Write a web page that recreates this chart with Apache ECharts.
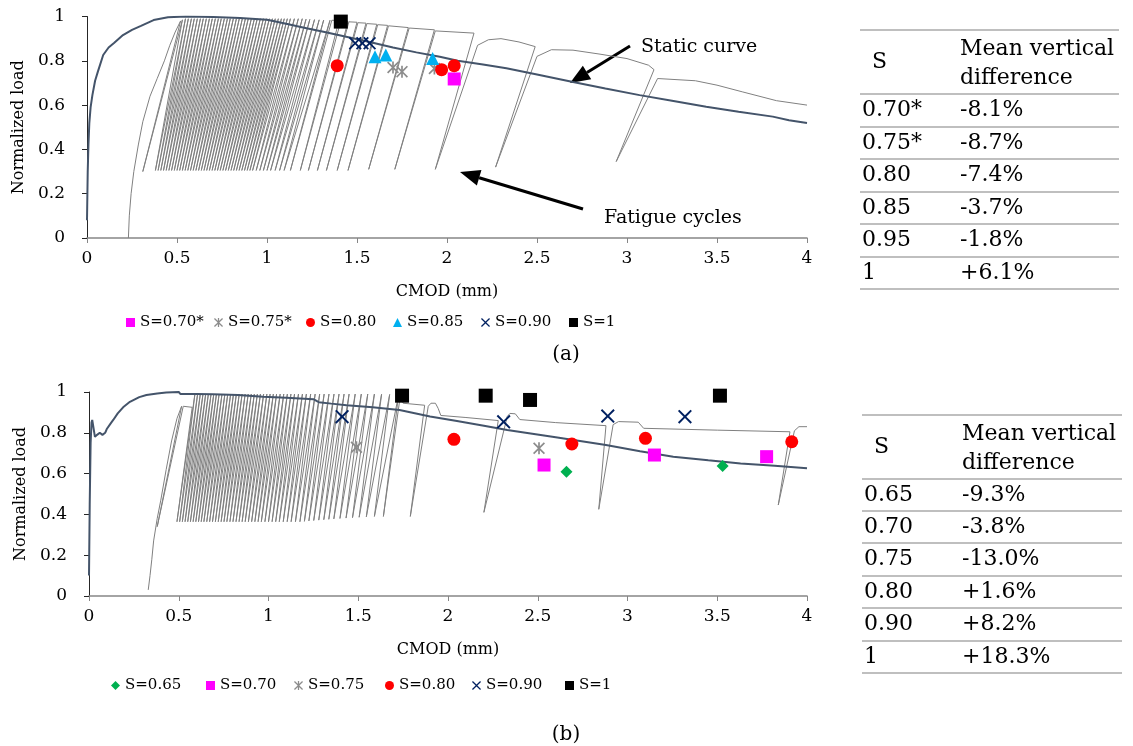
<!DOCTYPE html>
<html>
<head>
<meta charset="utf-8">
<script src="https://cdn.jsdelivr.net/npm/echarts/dist/echarts.min.js"></script>
<style>
html, body { margin: 0; padding: 0; background: #fff; }
#chart { width: 1133px; height: 746px; }
</style>
</head>
<body>
<div id="chart"></div>
<script>
// ---- (a) static curve
var staticAX = [0, 0.004, 0.008, 0.013, 0.02, 0.03, 0.045, 0.06, 0.09, 0.12, 0.15, 0.2, 0.25, 0.3, 0.37, 0.45, 0.55, 0.7, 0.85, 1.0,
                1.1, 1.2, 1.32, 1.44, 1.57, 1.7, 1.83, 1.96, 2.06, 2.2, 2.33, 2.5, 2.7, 2.88, 3.07, 3.25, 3.44, 3.62, 3.81, 3.9, 4.0];
var staticAY = [0.08, 0.3, 0.42, 0.52, 0.59, 0.645, 0.71, 0.75, 0.826, 0.86, 0.88, 0.916, 0.94, 0.958, 0.984, 0.997, 1.0, 0.998, 0.993, 0.985,
                0.968, 0.95, 0.93, 0.909, 0.885, 0.86, 0.838, 0.818, 0.8, 0.783, 0.766, 0.738, 0.704, 0.675, 0.645, 0.62, 0.593, 0.57, 0.548, 0.532, 0.519];

// ---- (a) fatigue test: first loading, dense cycles, then the sparse teeth
var initAX = [0.23, 0.235, 0.245, 0.26, 0.285, 0.31, 0.35, 0.39, 0.43, 0.46, 0.49, 0.52];
var initAY = [0, 0.1, 0.2, 0.3, 0.42, 0.525, 0.64, 0.72, 0.8, 0.87, 0.93, 0.98];
var cycBotAX = [0.31, 0.38, 0.395, 0.41, 0.425, 0.44, 0.455, 0.47, 0.485, 0.5,
                0.515, 0.53, 0.545, 0.56, 0.575, 0.59, 0.605, 0.62, 0.635, 0.65,
                0.665, 0.68, 0.695, 0.71, 0.725, 0.74, 0.755, 0.77, 0.785, 0.8,
                0.815, 0.83, 0.845, 0.86, 0.875, 0.89, 0.905, 0.92, 0.94, 0.96,
                0.98, 1.0, 1.02, 1.045, 1.07, 1.095, 1.13];
var cycBotAY = [0.3, 0.305, 0.305, 0.305, 0.305, 0.305, 0.305, 0.305, 0.305, 0.305,
                0.305, 0.305, 0.305, 0.305, 0.305, 0.305, 0.305, 0.305, 0.305, 0.305,
                0.305, 0.305, 0.305, 0.305, 0.305, 0.305, 0.305, 0.305, 0.305, 0.305,
                0.305, 0.305, 0.305, 0.305, 0.305, 0.305, 0.305, 0.305, 0.305, 0.305,
                0.305, 0.305, 0.305, 0.305, 0.305, 0.305, 0.305];
var cycTopAX = [0.53, 0.547, 0.563, 0.58, 0.596, 0.613, 0.63, 0.646, 0.663, 0.68,
                0.696, 0.713, 0.73, 0.746, 0.763, 0.78, 0.796, 0.813, 0.83, 0.846,
                0.863, 0.88, 0.896, 0.913, 0.93, 0.946, 0.963, 0.98, 0.996, 1.013,
                1.03, 1.046, 1.063, 1.08, 1.096, 1.113, 1.13, 1.152, 1.174, 1.196,
                1.217, 1.238, 1.264, 1.29, 1.315, 1.35, 1.36];
var cycTopAY = [0.985, 0.99, 0.99, 0.99, 0.99, 0.99, 0.99, 0.99, 0.99, 0.99,
                0.99, 0.99, 0.99, 0.99, 0.99, 0.99, 0.99, 0.99, 0.99, 0.99,
                0.99, 0.99, 0.99, 0.99, 0.99, 0.99, 0.99, 0.99, 0.99, 0.99,
                0.99, 0.99, 0.99, 0.99, 0.99, 0.99, 0.99, 0.99, 0.99, 0.99,
                0.988, 0.987, 0.986, 0.985, 0.984, 0.983, 0.983];
var tailAX = [1.4, 1.185, 1.41, 1.45, 1.23, 1.455, 1.5, 1.28, 1.505, 1.55, 1.33, 1.555, 1.61, 1.39, 1.615, 1.67, 1.45, 1.675,
              1.785, 1.565, 1.79, 1.93, 1.71, 1.935, 2.15, 1.935, 2.17, 2.23, 2.3, 2.4, 2.49, 2.27, 2.5, 2.58, 2.7, 2.85,
              3.0, 3.12, 3.15, 2.94, 3.17, 3.38, 3.5, 3.64, 3.83, 4.0];
var tailAY = [0.982, 0.305, 0.98, 0.978, 0.305, 0.976, 0.974, 0.305, 0.972, 0.97, 0.305, 0.968, 0.965, 0.305, 0.963, 0.96, 0.305, 0.958,
              0.95, 0.31, 0.948, 0.94, 0.31, 0.935, 0.925, 0.31, 0.87, 0.895, 0.9, 0.885, 0.864, 0.32, 0.82, 0.85, 0.848, 0.83,
              0.81, 0.78, 0.76, 0.345, 0.72, 0.71, 0.69, 0.66, 0.62, 0.6];

// ---- (b) static curve
var staticBX = [0, 0.004, 0.009, 0.014, 0.018, 0.024, 0.033, 0.045, 0.06, 0.075, 0.09, 0.1, 0.12, 0.135, 0.16, 0.19, 0.228, 0.28, 0.32, 0.38,
                0.43, 0.5, 0.51, 0.6, 0.69, 0.83, 0.97, 1.1, 1.25, 1.28, 1.35, 1.435, 1.58, 1.73, 1.9, 2.05, 2.2, 2.33, 2.6, 2.88,
                3.07, 3.255, 3.45, 3.63, 3.82, 4.0];
var staticBY = [0.1, 0.45, 0.75, 0.85, 0.863, 0.83, 0.78, 0.79, 0.8, 0.79, 0.8, 0.82, 0.845, 0.863, 0.895, 0.925, 0.952, 0.975, 0.985, 0.993,
                0.997, 1.0, 0.99, 0.99, 0.989, 0.985, 0.977, 0.972, 0.965, 0.95, 0.943, 0.935, 0.925, 0.912, 0.88, 0.858, 0.835, 0.814, 0.778, 0.74,
                0.71, 0.683, 0.665, 0.65, 0.638, 0.626];

// ---- (b) fatigue test
var initBX = [0.33, 0.34, 0.35, 0.36, 0.38, 0.4, 0.43, 0.46, 0.49, 0.516, 0.38, 0.525, 0.575];
var initBY = [0.03, 0.1, 0.18, 0.27, 0.38, 0.47, 0.62, 0.76, 0.87, 0.93, 0.34, 0.93, 0.925];
var cycBotBX = [0.49, 0.505, 0.52, 0.535, 0.55, 0.565, 0.58, 0.595, 0.61, 0.625,
                0.64, 0.656, 0.672, 0.688, 0.704, 0.72, 0.736, 0.752, 0.768, 0.785,
                0.802, 0.819, 0.836, 0.853, 0.87, 0.888, 0.906, 0.924, 0.942, 0.96,
                0.98, 1.0, 1.02, 1.04, 1.06, 1.082, 1.104, 1.126, 1.15, 1.175,
                1.2, 1.225, 1.252, 1.28, 1.308, 1.336, 1.364, 1.398, 1.432, 1.468,
                1.505, 1.545, 1.59, 1.64];
var cycBotBY = [0.364, 0.364, 0.364, 0.364, 0.364, 0.364, 0.364, 0.364, 0.364, 0.364,
                0.364, 0.364, 0.364, 0.364, 0.364, 0.364, 0.364, 0.364, 0.364, 0.364,
                0.364, 0.364, 0.364, 0.364, 0.364, 0.364, 0.364, 0.364, 0.364, 0.364,
                0.364, 0.364, 0.364, 0.364, 0.364, 0.364, 0.364, 0.364, 0.364, 0.364,
                0.366, 0.368, 0.37, 0.372, 0.374, 0.376, 0.378, 0.38, 0.382, 0.384,
                0.386, 0.388, 0.39, 0.39];
var cycTopBX = [0.59, 0.605, 0.62, 0.635, 0.65, 0.665, 0.68, 0.695, 0.71, 0.725,
                0.741, 0.757, 0.773, 0.789, 0.805, 0.821, 0.837, 0.853, 0.87, 0.887,
                0.904, 0.921, 0.938, 0.955, 0.973, 0.991, 1.009, 1.027, 1.045, 1.065,
                1.085, 1.105, 1.125, 1.145, 1.167, 1.189, 1.211, 1.235, 1.26, 1.285,
                1.31, 1.337, 1.365, 1.393, 1.421, 1.449, 1.483, 1.517, 1.553, 1.59,
                1.63, 1.675, 1.725, 1.735];
var cycTopBY = [0.99, 0.99, 0.99, 0.99, 0.99, 0.99, 0.99, 0.99, 0.99, 0.99,
                0.99, 0.99, 0.99, 0.99, 0.99, 0.99, 0.99, 0.99, 0.99, 0.99,
                0.99, 0.99, 0.99, 0.99, 0.99, 0.99, 0.99, 0.99, 0.99, 0.99,
                0.99, 0.99, 0.99, 0.99, 0.99, 0.99, 0.99, 0.99, 0.99, 0.99,
                0.99, 0.99, 0.99, 0.99, 0.99, 0.99, 0.99, 0.99, 0.99, 0.99,
                0.989, 0.988, 0.986, 0.985];
var tailBX = [1.75, 1.87, 1.79, 1.89, 1.905, 1.93, 1.945, 1.96, 2.1, 2.28, 2.2, 2.33, 2.345, 2.375, 2.4, 2.6, 2.88, 2.84,
              2.92, 2.95, 3.06, 3.09, 3.5, 3.905, 3.84, 3.93, 3.955, 4.0];
var tailBY = [0.945, 0.935, 0.39, 0.93, 0.945, 0.945, 0.92, 0.885, 0.875, 0.86, 0.41, 0.88, 0.895, 0.893, 0.865, 0.85, 0.835, 0.425,
              0.84, 0.855, 0.852, 0.822, 0.813, 0.805, 0.446, 0.81, 0.83, 0.83];

// ---- test points [CMOD, load]
var ptsA070 = [[2.04, 0.718]];
var ptsA075 = [[1.7, 0.77], [1.75, 0.751], [1.93, 0.765]];
var ptsA080 = [[1.39, 0.778], [1.97, 0.76], [2.04, 0.778]];
var ptsA085 = [[1.6, 0.818], [1.66, 0.826], [1.92, 0.81]];
var ptsA090 = [[1.49, 0.879], [1.53, 0.879], [1.57, 0.879]];
var ptsA100 = [[1.41, 0.977]];

var ptsB065 = [[2.66, 0.609], [3.53, 0.637]];
var ptsB070 = [[2.535, 0.642], [3.15, 0.691], [3.775, 0.683]];
var ptsB075 = [[1.49, 0.729], [2.507, 0.724]];
var ptsB080 = [[2.033, 0.768], [2.69, 0.745], [3.1, 0.773], [3.915, 0.756]];
var ptsB090 = [[1.41, 0.879], [2.31, 0.854], [2.89, 0.882], [3.32, 0.879]];
var ptsB100 = [[1.744, 0.982], [2.21, 0.982], [2.457, 0.961], [3.515, 0.982]];

// ---- tables
var tableHead = ['S', 'Mean vertical', 'difference'];
var tableAS = ['0.70*', '0.75*', '0.80', '0.85', '0.95', '1'];
var tableADiff = ['-8.1%', '-8.7%', '-7.4%', '-3.7%', '-1.8%', '+6.1%'];
var tableBS = ['0.65', '0.70', '0.75', '0.80', '0.90', '1'];
var tableBDiff = ['-9.3%', '-3.8%', '-13.0%', '+1.6%', '+8.2%', '+18.3%'];

var xTicks = [0, 4, 0.5];
var yTicks = [0, 1, 0.2];

var SERIF = '"DejaVu Serif"';
var CROSS = 'path://M1,0L5,4L9,0L10,1L6,5L10,9L9,10L5,6L1,10L0,9L4,5L0,1Z';
var STAR = CROSS + 'M4.3,0L5.7,0L5.7,10L4.3,10Z';

function toPairs(xs, ys) {
    return xs.map(function (x, i) { return [x, ys[i]]; });
}

function fatiguePath(initX, initY, botX, botY, topX, topY, tailX, tailY) {
    var pts = toPairs(initX, initY);
    for (var i = 0; i < botX.length; i++) {
        pts.push([botX[i], botY[i]]);
        pts.push([topX[i], topY[i]]);
    }
    return pts.concat(toPairs(tailX, tailY));
}

function lineSeries(data, idx, color, width, z) {
    return {
        type: 'line', xAxisIndex: idx, yAxisIndex: idx, data: data,
        showSymbol: false, symbol: 'none', silent: true, z: z,
        lineStyle: { color: color, width: width }
    };
}

function dots(name, data, idx, symbol, size, color) {
    return {
        name: name, type: 'scatter', xAxisIndex: idx, yAxisIndex: idx, data: data,
        symbol: symbol, symbolSize: size, silent: true, z: 5,
        itemStyle: { color: color, opacity: 1 }
    };
}

function xAxisOf(idx) {
    return {
        gridIndex: idx, type: 'value', min: xTicks[0], max: xTicks[1], interval: xTicks[2],
        name: 'CMOD (mm)', nameLocation: 'middle', nameGap: 46,
        nameTextStyle: { fontFamily: SERIF, fontSize: 16, color: '#000' },
        axisLine: { lineStyle: { color: '#868686', width: 1.5 } },
        axisTick: { length: 5, lineStyle: { color: '#868686' } },
        axisLabel: { fontFamily: SERIF, fontSize: 17, color: '#000', margin: 12 },
        splitLine: { show: false }
    };
}

function yAxisOf(idx) {
    return {
        gridIndex: idx, type: 'value', min: yTicks[0], max: yTicks[1], interval: yTicks[2],
        name: 'Normalized load', nameLocation: 'middle', nameGap: 60,
        nameTextStyle: { fontFamily: SERIF, fontSize: 16, color: '#000' },
        axisLine: { show: true, lineStyle: { color: '#262626', width: 1 } },
        axisTick: { show: true, length: 5, lineStyle: { color: '#262626' } },
        axisLabel: { fontFamily: SERIF, fontSize: 17, color: '#000', margin: 22 },
        splitLine: { show: false }
    };
}

function txt(s, x, y, size, align) {
    return {
        type: 'text', x: x, y: y, silent: true,
        style: { text: s, font: size + 'px ' + SERIF, fill: '#000', textAlign: align || 'left', verticalAlign: 'middle' }
    };
}

function arrow(x1, y1, x2, y2) {
    var a = Math.atan2(y2 - y1, x2 - x1), len = 20, half = 8;
    var bx = x2 - len * Math.cos(a), by = y2 - len * Math.sin(a);
    return [
        { type: 'line', silent: true, shape: { x1: x1, y1: y1, x2: bx, y2: by }, style: { stroke: '#000', lineWidth: 3 } },
        { type: 'polygon', silent: true, shape: { points: [[x2, y2],
            [bx + half * Math.sin(a), by - half * Math.cos(a)],
            [bx - half * Math.sin(a), by + half * Math.cos(a)]] }, style: { fill: '#000' } }
    ];
}

function table(lineYs, x0, x1, sVals, dVals) {
    var els = [];
    lineYs.forEach(function (y) {
        els.push({ type: 'line', silent: true, shape: { x1: x0, y1: y, x2: x1, y2: y }, style: { stroke: '#bfbfbf', lineWidth: 2 } });
    });
    var hTop = lineYs[0], hBot = lineYs[1];
    els.push(txt(tableHead[0], x0 + 12, (hTop + hBot) / 2, 22));
    els.push(txt(tableHead[1], x0 + 100, hTop + (hBot - hTop) * 0.3, 22));
    els.push(txt(tableHead[2], x0 + 100, hTop + (hBot - hTop) * 0.75, 22));
    for (var i = 0; i < sVals.length; i++) {
        var yc = (lineYs[i + 1] + lineYs[i + 2]) / 2;
        els.push(txt(sVals[i], x0 + 2, yc, 22));
        els.push(txt(dVals[i], x0 + 100, yc, 22));
    }
    return els;
}

var namesA = ['S=0.70*', 'S=0.75*', 'S=0.80', 'S=0.85', 'S=0.90', 'S=1'];
var namesB = ['S=0.65', 'S=0.70', 'S=0.75', 'S=0.80', 'S=0.90', 'S=1'];
var legendLeftA = [126, 214, 306, 393, 481, 569];
var legendLeftB = [111, 206, 294, 385, 472, 565];

var legends = [];
namesA.forEach(function (n, i) {
    legends.push({ data: [n], left: legendLeftA[i], top: 315, padding: 0, itemWidth: 9, itemHeight: 9, itemGap: 4,
        selectedMode: false, textStyle: { fontFamily: SERIF, fontSize: 15, color: '#000' } });
});
namesB.forEach(function (n, i) {
    legends.push({ data: [n], left: legendLeftB[i], top: 678, padding: 0, itemWidth: 9, itemHeight: 9, itemGap: 4,
        selectedMode: false, textStyle: { fontFamily: SERIF, fontSize: 15, color: '#000' } });
});

var graphics = []
    .concat(table([30, 94, 127, 159, 192, 224, 257, 289], 860, 1119, tableAS, tableADiff))
    .concat(table([415, 479, 511, 543, 576, 608, 641, 673], 862, 1122, tableBS, tableBDiff))
    .concat(arrow(630, 46, 570, 83))
    .concat(arrow(583, 209, 460, 172))
    .concat([
        txt('Static curve', 641, 47, 19),
        txt('Fatigue cycles', 604, 218, 19),
        txt('(a)', 566, 355, 20, 'center'),
        txt('(b)', 566, 735, 20, 'center')
    ]);

var myChart = echarts.init(document.getElementById('chart')),
    option = {
        backgroundColor: '#fff',
        animation: false,
        grid: [
            { left: 87, top: 16.5, width: 720, height: 221.5 },
            { left: 89, top: 392, width: 718, height: 204 }
        ],
        xAxis: [xAxisOf(0), xAxisOf(1)],
        yAxis: [yAxisOf(0), yAxisOf(1)],
        legend: legends,
        graphic: graphics,
        series: [
            lineSeries(fatiguePath(initAX, initAY, cycBotAX, cycBotAY, cycTopAX, cycTopAY, tailAX, tailAY), 0, '#808080', 1, 1),
            lineSeries(toPairs(staticAX, staticAY), 0, '#44546a', 2, 2),
            dots('S=0.70*', ptsA070, 0, 'rect', 13, '#ff00ff'),
            dots('S=0.75*', ptsA075, 0, STAR, 12, '#8c8c8c'),
            dots('S=0.80', ptsA080, 0, 'circle', 13, '#ff0000'),
            dots('S=0.85', ptsA085, 0, 'triangle', 13, '#00b0f0'),
            dots('S=0.90', ptsA090, 0, CROSS, 13, '#002060'),
            dots('S=1', ptsA100, 0, 'rect', 14, '#000000'),

            lineSeries(fatiguePath(initBX, initBY, cycBotBX, cycBotBY, cycTopBX, cycTopBY, tailBX, tailBY), 1, '#808080', 1, 1),
            lineSeries(toPairs(staticBX, staticBY), 1, '#44546a', 2, 2),
            dots('S=0.65', ptsB065, 1, 'diamond', 12, '#00b050'),
            dots('S=0.70', ptsB070, 1, 'rect', 13, '#ff00ff'),
            dots('S=0.75', ptsB075, 1, STAR, 12, '#8c8c8c'),
            dots('S=0.80', ptsB080, 1, 'circle', 13, '#ff0000'),
            dots('S=0.90', ptsB090, 1, CROSS, 14, '#002060'),
            dots('S=1', ptsB100, 1, 'rect', 14, '#000000')
        ]
    };

myChart.setOption(option);
</script>
</body>
</html>
